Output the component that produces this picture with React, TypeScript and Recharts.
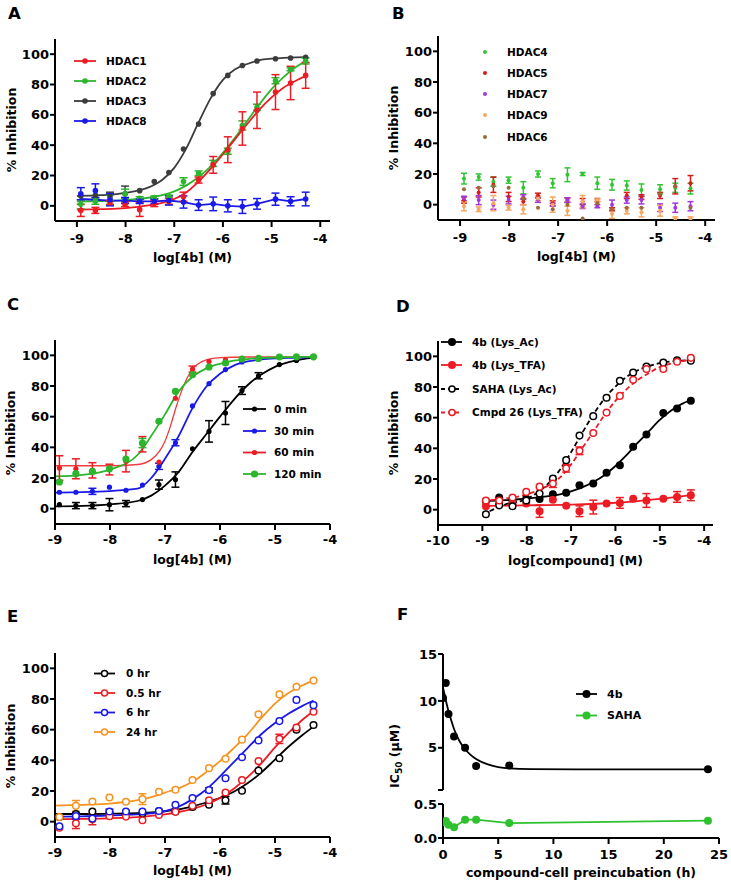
import React from 'react';
import { ComposedChart, Line, Scatter, XAxis, YAxis, ErrorBar, Legend } from 'recharts';

const FONT = '"DejaVu Sans", Verdana, sans-serif';
const W = 731;
const H = 886;

// ---------- shared x values (log concentration) ----------
const concLog = [-8.92, -8.62, -8.32, -8.01, -7.71, -7.41, -7.11, -6.81, -6.5, -6.2, -5.9, -5.6, -5.3, -4.92, -4.61, -4.3];
const fitGrid = [-9, -8.5, -8, -7.5, -7.25, -7, -6.75, -6.5, -6.25, -6, -5.75, -5.5, -5.25, -5, -4.75, -4.5, -4.3];
const logTicks9 = [-9, -8, -7, -6, -5, -4];
const logTicks10 = [-10, -9, -8, -7, -6, -5, -4];
const pctTicks = [0, 20, 40, 60, 80, 100];

// ---------- Panel A ----------
const aH1 = [-3, -3, 2, 1, -2.5, 1.5, 3, 6, 17, 27, 37, 51, 63, 75, 81, 86];
const aH1Err = [4, 2, 1.5, 1.5, 4.5, 2, 2, 3, 2, 5.5, 8.5, 11, 12, 11.5, 11, 8.5];
const aH2 = [1, 3, 4, 8, 5, 5.5, 6, 16, 21.5, 28, 36, 53, 65, 82.5, 90, 95.5];
const aH2Err = [3, 2, 3, 3, 1, 1, 1, 2.5, 1.5, 2, 2, 3, 2, 2, 1, 2];
const aH3 = [6.5, 7, 6, 8, 10, 16, 22, 37.5, 54, 74, 86, 92.5, 95.5, 97, 97.5, 98];
const aH3Err = [0, 0, 3, 5, 0, 0, 0, 0, 0, 0, 0, 0, 0, 0, 0, 0];
const aH8 = [8, 10, 4, 3.5, 3, 3, 3.5, 2.5, 0.5, 1.3, 0, -0.5, 1.3, 4.4, 3, 4.5];
const aH8Err = [4, 4.5, 4, 2, 1.5, 1.5, 3, 4, 3.5, 4.5, 4, 4.5, 3.5, 4, 3, 4.5];
const aH8Trace = [4.5, 4, 3.5, 3.5, 3, 3, 3.5, 2.5, 0.5, 1.3, 0, -0.5, 1.3, 4.4, 3, 4.5];
const aFitH1 = [-2.5, -2.2, -1.5, 0.5, 2, 4.5, 9, 16, 24.5, 34, 44, 54, 63.5, 71.5, 78, 82.5, 85.5];
const aFitH2 = [3, 3.2, 3.8, 5.5, 7, 9.5, 13.5, 19, 26, 35, 45, 56, 67, 77, 85, 91.5, 95.5];
const aFitH3 = [6.5, 7, 8.5, 12.5, 17, 25, 38, 55, 71, 83, 90, 93.5, 96, 97, 97.6, 97.9, 98];

// ---------- Panel B ----------
const bH4 = [17, 18, 15, 16, 11, 20, 14, 19.5, 20, 14, 13, 12.5, 9.5, 10, 11, 10.5];
const bH4Err = [3.5, 2, 3, 2, 4, 2, 3, 4.5, 1, 4, 3.5, 3, 4, 3, 3, 3.5];
const bH5 = [3, 8, 13, 5, 2, 6, 1, 3, 2, 3, -3, 6, 5, 6, 12, 14];
const bH5Err = [2, 3, 5, 3, 2, 1.5, 1.5, 1.5, 2, 1, 1, 2, 1.5, 2, 5, 5];
const bH7 = [4, 3, 0, 3, 5, 3, 0, 3, -1, -1, 0, 3, 3, -2, -2, -1];
const bH7Err = [1.5, 3, 3, 2.5, 1.5, 1.5, 1, 1.5, 1.5, 1, 3, 2, 2.5, 2.5, 3, 3];
const bH9 = [-1, -3, 1, -2, -3, 4, 0, -4, 2, 3, -6, -4, -5, -4, -9, -9];
const bH9Err = [3, 1.5, 5, 1.5, 3, 1.5, 5, 3, 4, 1, 3, 2, 3, 3.5, 1, 1];
const bH6 = [10, 11, 12, 11, 4, -2, -3, 0, -9, 1, -3, -2, -2, 7, 12, -2];

// ---------- Panel C ----------
const c0 = [2.6, 2, 2, 2.6, 3.3, 5.9, 15.7, 19, 39, 50.4, 62.4, 77, 86.7, 94, 96.7, 99];
const c0Err = [0, 2, 2, 4, 2, 0, 3, 5, 0, 7, 7.5, 2.5, 2, 0, 0, 0];
const c30 = [10.7, 10.7, 11.3, 14, 12, 15.4, 27.6, 43, 67, 81.5, 90.7, 95.7, 98, 98.7, 99, 99];
const c30Err = [0, 0, 2, 0, 0, 0, 2, 2, 0, 0, 0, 0, 0, 0, 0, 0];
const c60 = [26.5, 26, 25, 25.5, 31, 42, 30.4, 72, 91, 96, 97, 98, 98, 99, 99, 99];
const c60Err = [8, 6.5, 5, 3.5, 7, 5, 0, 0, 2, 0, 0, 0, 0, 0, 0, 0];
const c120 = [17.4, 22.8, 24.3, 26, 32.4, 42.8, 57, 76.5, 87.4, 92.4, 95, 97.6, 98, 98.9, 99, 99];
const c120Err = [0, 0, 0, 0, 0, 3, 0, 0, 0, 0, 0, 0, 0, 0, 0, 0];
const cFit0 = [1.5, 1.8, 2.8, 5, 8.5, 15, 24, 37, 48.5, 60, 71, 80.5, 87.5, 92.5, 95.5, 97.5, 98.5];
const cFit30 = [10.5, 10.8, 11.5, 13, 20, 32.5, 47.5, 65.6, 79.5, 88, 93.3, 96, 97.3, 98, 98.4, 98.6, 98.7];
const cFit120 = [21, 22, 25.5, 35, 47.5, 61.5, 76.5, 86, 91.5, 94.5, 96.5, 97.5, 98.2, 98.6, 98.8, 99, 99];
const cFit60X = [-9, -8, -7.5, -7.25, -7.1, -7, -6.9, -6.8, -6.7, -6.6, -6.5, -6.25, -6, -5.5, -4.3];
const cFit60 = [28, 28, 28.8, 32, 37.5, 44, 54, 66, 76.5, 85, 91, 97, 98.5, 98.9, 99];

// ---------- Panel D ----------
const d4bAc = [5.5, 7.9, 6, 7.2, 7, 10, 11, 16, 17, 24, 29, 41, 49, 63, 66, 71];
const d4bTfa = [2.2, 4, 4, 4, -1, 6.5, 2.6, -1, 1.7, 4, 4.4, 7.2, 6, 7.2, 8.3, 9.4];
const d4bTfaErr = [0, 0, 0, 0, 4, 0, 0, 3.5, 4.5, 0, 3.5, 0, 4.5, 0, 3.5, 3.5];
const dSaha = [-3, 2.8, 2.2, 6, 10.5, 20.3, 32.3, 48.3, 61, 73, 84, 89.5, 93.4, 96, 97.4, 97.2];
const dCmpd26 = [6, 6, 7.9, 11.6, 15, 17, 27, 38.4, 50, 63.3, 74.2, 84.7, 91.7, 91.7, 96.5, 99];
const dCmpd26Err = [0, 0, 0, 0, 0, 2.5, 2.5, 2.5, 0, 0, 0, 0, 0, 0, 0, 0];
const dFit4bAc = [5.5, 6.2, 7.2, 8.8, 10, 12, 14.5, 18, 22.5, 28.5, 35.5, 43.5, 51, 58.5, 64.5, 69, 71.5];
const dFit4bTfaX = [-9, -8, -7, -6, -5.5, -5, -4.3];
const dFit4bTfa = [2.5, 2.8, 3.3, 4.5, 5.6, 7, 9.5];
const dFitSaha = [-3.3, 3.2, 7, 17.5, 26, 37.5, 50, 62, 72.3, 80.3, 86.5, 90.8, 93.7, 95.5, 96.6, 97.2, 97.4];
const dFitCmpd26 = [5.8, 7.2, 10, 16, 21, 29.5, 40, 50.7, 61.6, 71, 78.5, 84.5, 89, 93, 95.2, 96.8, 97.8];

// ---------- Panel E ----------
const e0 = [3, 5, 6.6, 6, 6, 5.5, 7, 6.6, 9.6, 11, 14, 20.2, 33.3, 41.4, 60, 63];
const e0Err = [0, 0, 0, 0, 0, 0, 0, 0, 0, 0, 2.5, 0, 0, 0, 0, 0];
const e05 = [-4, -1, 1.5, 3.5, 3.3, 0.9, 4.4, 6.4, 10.3, 14, 19, 27.2, 39.5, 54, 61.4, 71.7];
const e05Err = [0, 3.5, 3.5, 0, 0, 0, 0, 0, 0, 0, 0, 0, 0, 3, 0, 0];
const e6 = [-3, 3.7, 2, 6.6, 6.6, 6.6, 7, 11, 15.4, 20.6, 28.3, 42, 53, 65.6, 79.4, 76];
const e6Err = [0, 2, 0, 1.5, 0, 0, 0, 0, 0, 1.5, 0, 0, 0, 0, 0, 0];
const e24 = [3, 10.3, 13.2, 15.8, 13, 14.7, 19.5, 20.8, 27.2, 34.9, 41, 53.5, 70, 83, 88, 92];
const e24Err = [0, 3.5, 0, 0, 0, 3.5, 0, 0, 0, 0, 0, 0, 0, 0, 0, 0];
const eFit0 = [5, 5, 5.2, 5.5, 6, 6.8, 8, 10, 12.5, 15.5, 19.5, 25, 32, 40.5, 49, 56.5, 62];
const eFit05 = [1.5, 1.8, 2.2, 3, 3.8, 4.8, 6.3, 8.3, 11.2, 15.5, 21.5, 29, 38, 48.5, 58, 66.5, 72];
const eFit6 = [3.2, 3.5, 4, 4.8, 5.5, 6.8, 9.8, 14.7, 21, 29.5, 38.8, 48, 57, 64.3, 70.5, 75.5, 79];
const eFit24 = [10.5, 11, 11.8, 14, 16, 19, 21.8, 26, 32.3, 39.5, 48, 57, 67.5, 77, 84, 89, 92];

// ---------- Panel F ----------
const fHours = [0, 0.25, 0.5, 1, 2, 3, 6, 24];
const f4b = [10.3, 11.9, 8.6, 6.2, 5, 3.05, 3.1, 2.7];
const fSaha = [0.235, 0.25, 0.196, 0.157, 0.27, 0.27, 0.22, 0.255];
const fFitX = [0, 0.25, 0.5, 0.75, 1, 1.5, 2, 2.5, 3, 4, 5, 6, 8, 12, 24];
const fFit4b = [11.4, 10.1, 8.9, 7.9, 7.0, 5.7, 4.85, 4.25, 3.8, 3.25, 2.95, 2.8, 2.72, 2.7, 2.7];
const fTicksX = [0, 5, 10, 15, 20, 25];

// ---------- helpers ----------
type Pt = { x: number; y: number; e?: number };
const zip = (xs: number[], ys: number[], es?: number[]): Pt[] =>
  xs.map((x, i) => ({ x, y: ys[i], e: es ? es[i] : 0 }));

type Box = { l: number; t: number; r: number; b: number };
const YW = 50;
const XH = 45;
const marginOf = (bx: Box, showX = true) => ({
  left: bx.l - YW,
  top: bx.t,
  right: W - bx.r,
  bottom: H - bx.b - (showX ? XH : 0),
});

const tickStyle = { fontSize: 13, fontWeight: 700, fill: '#000', fontFamily: FONT };
const axisStroke = { stroke: '#000', strokeWidth: 2 };
const txt = { fontFamily: FONT, fontWeight: 700, fill: '#000' } as const;

const xTitle = (text: string, cx: number, by: number) => ({
  content: () => (
    <text x={cx} y={by} textAnchor="middle" fontSize={12.5} {...txt}>
      {text}
    </text>
  ),
});
const yTitle = (text: string, cx: number, cy: number) => ({
  content: () => (
    <text x={cx} y={cy} dy="0.36em" textAnchor="middle" fontSize={12.5} transform={`rotate(-90 ${cx} ${cy})`} {...txt}>
      {text}
    </text>
  ),
});

const fitLine = (key: string, xs: number[], ys: number[], color: string, sw = 1.8, dash?: string) => (
  <Line
    key={key}
    data={zip(xs, ys)}
    dataKey="y"
    type="monotone"
    stroke={color}
    strokeWidth={sw}
    strokeDasharray={dash}
    dot={false}
    activeDot={false}
    isAnimationActive={false}
  />
);
const trace = (key: string, xs: number[], ys: number[], color: string, sw = 1.8) => (
  <Line key={key} data={zip(xs, ys)} dataKey="y" type="linear" stroke={color} strokeWidth={sw}
    dot={false} activeDot={false} isAnimationActive={false} />
);

const points = (
  key: string,
  data: Pt[],
  color: string,
  r: number,
  opts: { hollow?: boolean; err?: boolean; cap?: number } = {}
) => (
  <Scatter
    key={key}
    data={data}
    dataKey="y"
    isAnimationActive={false}
    shape={(p: any) => (
      <circle cx={p.cx} cy={p.cy} r={r} fill={opts.hollow ? '#fff' : color} stroke={color} strokeWidth={opts.hollow ? 1.5 : 0} />
    )}
  >
    {opts.err === false ? null : (
      <ErrorBar dataKey="e" direction="y" width={opts.cap ?? 4} stroke={color} strokeWidth={1.5} />
    )}
  </Scatter>
);

type LegItem = { label: string; color: string; r: number; hollow?: boolean; line?: boolean; dash?: string };
type LegGeom = { x1: number; x2: number; mx: number; tx: number; ys: number[]; fs: number };
const legendSvg = (items: LegItem[], g: LegGeom, letter: { t: string; x: number; y: number }) => (
  <svg width={W} height={H} style={{ position: 'absolute', left: 0, top: 0, overflow: 'visible' }}>
    <text x={letter.x} y={letter.y} fontSize={16.5} {...txt}>
      {letter.t}
    </text>
    {items.map((it, i) => (
      <g key={it.label}>
        {it.line === false ? null : (
          <line x1={g.x1} x2={g.x2} y1={g.ys[i]} y2={g.ys[i]} stroke={it.color} strokeWidth={1.8} strokeDasharray={it.dash} />
        )}
        <circle cx={g.mx} cy={g.ys[i]} r={it.r} fill={it.hollow ? '#fff' : it.color} stroke={it.color} strokeWidth={it.hollow ? 1.5 : 0} />
        <text x={g.tx} y={g.ys[i]} dy="0.36em" fontSize={g.fs} {...txt}>
          {it.label}
        </text>
      </g>
    ))}
  </svg>
);
const legendEl = (items: LegItem[], g: LegGeom, letter: { t: string; x: number; y: number }) => (
  <Legend
    layout="horizontal"
    verticalAlign="middle"
    align="center"
    wrapperStyle={{ left: 0, top: 0, width: W, height: H, margin: 0, pointerEvents: 'none' }}
    content={() => legendSvg(items, g, letter)}
  />
);

const layer: React.CSSProperties = { position: 'absolute', left: 0, top: 0, width: W, height: H };

// ---------- colours ----------
const RED = '#ec1c24';
const GREEN = '#2db52d';
const BLUE = '#1a1ae8';
const GRAY = '#3c3c3c';
const BLACK = '#000000';
const ORANGE = '#f7931e';

// ---------- boxes ----------
const boxA: Box = { l: 55, t: 39, r: 330, b: 221 };
const boxB: Box = { l: 438, t: 36, r: 715, b: 220 };
const boxC: Box = { l: 55, t: 340, r: 330, b: 524 };
const boxD: Box = { l: 438, t: 341, r: 713, b: 525 };
const boxE: Box = { l: 55, t: 653, r: 330, b: 837 };
const boxFU: Box = { l: 443, t: 654, r: 719, b: 790 };
const boxFL: Box = { l: 443, t: 804, r: 719, b: 838 };

const xAxisLog = (domain: [number, number], ticks: number[], title: any, tickMargin = 5) => (
  <XAxis
    type="number"
    dataKey="x"
    domain={domain}
    ticks={ticks}
    interval={0}
    allowDataOverflow
    height={XH}
    tick={tickStyle}
    tickLine={axisStroke}
    axisLine={axisStroke}
    tickSize={6}
    tickMargin={tickMargin}
    label={title}
  />
);
const yAxisPct = (title: any) => (
  <YAxis
    type="number"
    dataKey="y"
    domain={[-10, 110]}
    ticks={pctTicks}
    interval={0}
    allowDataOverflow
    width={YW}
    tick={tickStyle}
    tickLine={axisStroke}
    axisLine={axisStroke}
    tickSize={5}
    tickMargin={1}
    label={title}
  />
);

export default function App() {
  return (
    <div style={{ position: 'absolute', left: 0, top: 0, width: W, height: H, background: '#fff', overflow: 'hidden' }}>
      {/* Panel A */}
      <div style={layer}>
        <ComposedChart width={W} height={H} margin={marginOf(boxA)}>
          {xAxisLog([-9.45, -3.8], logTicks9, xTitle('log[4b] (M)', 192.5, 262), 7)}
          {yAxisPct(yTitle('% Inhibition', 11, 130))}
          {fitLine('a3', fitGrid, aFitH3, GRAY)}
          {fitLine('a2', fitGrid, aFitH2, GREEN)}
          {fitLine('a1', fitGrid, aFitH1, RED)}
          {trace('a8', concLog, aH8Trace, BLUE)}
          {points('pa3', zip(concLog, aH3, aH3Err), GRAY, 2.8, { cap: 4 })}
          {points('pa2', zip(concLog, aH2, aH2Err), GREEN, 2.8, { cap: 4 })}
          {points('pa1', zip(concLog, aH1, aH1Err), RED, 2.8, { cap: 4 })}
          {points('pa8', zip(concLog, aH8, aH8Err), BLUE, 2.8, { cap: 4 })}
          {legendEl(
            [
              { label: 'HDAC1', color: RED, r: 2.8 },
              { label: 'HDAC2', color: GREEN, r: 2.8 },
              { label: 'HDAC3', color: GRAY, r: 2.8 },
              { label: 'HDAC8', color: BLUE, r: 2.8 },
            ],
            { x1: 74, x2: 96, mx: 85, tx: 106, ys: [61, 81, 101, 121], fs: 10.5 },
            { t: 'A', x: 8, y: 18.5 }
          )}
        </ComposedChart>
      </div>

      {/* Panel B */}
      <div style={layer}>
        <ComposedChart width={W} height={H} margin={marginOf(boxB)}>
          {xAxisLog([-9.45, -3.8], logTicks9, xTitle('log[4b] (M)', 576.5, 261), 7)}
          {yAxisPct(yTitle('% Inhibition', 393, 128))}
          {points('pb4', zip(concLog, bH4, bH4Err), '#33c433', 2, { cap: 3 })}
          {points('pb5', zip(concLog, bH5, bH5Err), '#d81b1b', 2, { cap: 3 })}
          {points('pb7', zip(concLog, bH7, bH7Err), '#a238d8', 2, { cap: 3 })}
          {points('pb9', zip(concLog, bH9, bH9Err), '#f6a760', 2, { cap: 3 })}
          {points('pb6', zip(concLog, bH6), '#9a6b3a', 2, { err: false })}
          {legendEl(
            [
              { label: 'HDAC4', color: '#33c433', r: 2, line: false },
              { label: 'HDAC5', color: '#d81b1b', r: 2, line: false },
              { label: 'HDAC7', color: '#a238d8', r: 2, line: false },
              { label: 'HDAC9', color: '#f6a760', r: 2, line: false },
              { label: 'HDAC6', color: '#9a6b3a', r: 2, line: false },
            ],
            { x1: 485, x2: 485, mx: 485, tx: 507, ys: [52, 73, 94, 115, 137], fs: 10.5 },
            { t: 'B', x: 392, y: 18.5 }
          )}
        </ComposedChart>
      </div>

      {/* Panel C */}
      <div style={layer}>
        <ComposedChart width={W} height={H} margin={marginOf(boxC)}>
          {xAxisLog([-9, -4], logTicks9, xTitle('log[4b] (M)', 192.5, 564), 5)}
          {yAxisPct(yTitle('% Inhibition', 10, 433))}
          {fitLine('c0', fitGrid, cFit0, BLACK)}
          {fitLine('c30', fitGrid, cFit30, BLUE)}
          {fitLine('c60', cFit60X, cFit60, '#f03c3c', 1.3)}
          {fitLine('c120', fitGrid, cFit120, GREEN)}
          {points('pc0', zip(concLog, c0, c0Err), BLACK, 2.6, { cap: 4 })}
          {points('pc30', zip(concLog, c30, c30Err), BLUE, 2.6, { cap: 4 })}
          {points('pc60', zip(concLog, c60, c60Err), RED, 2.6, { cap: 4 })}
          {points('pc120', zip(concLog, c120, c120Err), GREEN, 3.6, { cap: 4 })}
          {legendEl(
            [
              { label: '0 min', color: BLACK, r: 2.6 },
              { label: '30 min', color: BLUE, r: 2.6 },
              { label: '60 min', color: RED, r: 2.6 },
              { label: '120 min', color: GREEN, r: 3.6 },
            ],
            { x1: 243, x2: 266, mx: 254.5, tx: 274, ys: [409, 431, 452.5, 474], fs: 10.5 },
            { t: 'C', x: 7, y: 310 }
          )}
        </ComposedChart>
      </div>

      {/* Panel D */}
      <div style={layer}>
        <ComposedChart width={W} height={H} margin={marginOf(boxD)}>
          {xAxisLog([-10, -3.8], logTicks10, xTitle('log[compound] (M)', 575.5, 565), 5)}
          {yAxisPct(yTitle('% Inhibition', 393, 433))}
          {fitLine('d1', fitGrid, dFit4bAc, BLACK)}
          {fitLine('d2', dFit4bTfaX, dFit4bTfa, RED)}
          {fitLine('d3', fitGrid, dFitSaha, BLACK, 1.8, '5 3')}
          {fitLine('d4', fitGrid, dFitCmpd26, RED, 1.8, '5 3')}
          {points('pd1', zip(concLog, d4bAc), BLACK, 4, { err: false })}
          {points('pd2', zip(concLog, d4bTfa, d4bTfaErr), RED, 4, { cap: 4 })}
          {points('pd3', zip(concLog, dSaha), BLACK, 3.3, { hollow: true, err: false })}
          {points('pd4', zip(concLog, dCmpd26, dCmpd26Err), RED, 3.3, { hollow: true, cap: 4 })}
          {legendEl(
            [
              { label: '4b (Lys_Ac)', color: BLACK, r: 4 },
              { label: '4b (Lys_TFA)', color: RED, r: 4 },
              { label: 'SAHA (Lys_Ac)', color: BLACK, r: 3, hollow: true, dash: '4 3' },
              { label: 'Cmpd 26 (Lys_TFA)', color: RED, r: 3, hollow: true, dash: '4 3' },
            ],
            { x1: 441, x2: 462, mx: 452, tx: 472, ys: [342, 365, 389, 412.5], fs: 10.5 },
            { t: 'D', x: 396, y: 312 }
          )}
        </ComposedChart>
      </div>

      {/* Panel E */}
      <div style={layer}>
        <ComposedChart width={W} height={H} margin={marginOf(boxE)}>
          {xAxisLog([-9, -4], logTicks9, xTitle('log[4b] (M)', 192.5, 875), 5)}
          {yAxisPct(yTitle('% Inhibition', 10, 746))}
          {fitLine('e0', fitGrid, eFit0, BLACK)}
          {fitLine('e05', fitGrid, eFit05, RED)}
          {fitLine('e6', fitGrid, eFit6, BLUE)}
          {fitLine('e24', fitGrid, eFit24, ORANGE)}
          {points('pe0', zip(concLog, e0, e0Err), BLACK, 3.3, { hollow: true, cap: 4 })}
          {points('pe05', zip(concLog, e05, e05Err), RED, 3.3, { hollow: true, cap: 4 })}
          {points('pe6', zip(concLog, e6, e6Err), BLUE, 3.3, { hollow: true, cap: 4 })}
          {points('pe24', zip(concLog, e24, e24Err), ORANGE, 3.3, { hollow: true, cap: 4 })}
          {legendEl(
            [
              { label: '0 hr', color: BLACK, r: 3, hollow: true },
              { label: '0.5 hr', color: RED, r: 3, hollow: true },
              { label: '6 hr', color: BLUE, r: 3, hollow: true },
              { label: '24 hr', color: ORANGE, r: 3, hollow: true },
            ],
            { x1: 94, x2: 115, mx: 104.5, tx: 126, ys: [673.5, 693, 712.5, 732], fs: 10.5 },
            { t: 'E', x: 7, y: 622 }
          )}
        </ComposedChart>
      </div>

      {/* Panel F - upper (4b) */}
      <div style={layer}>
        <ComposedChart width={W} height={H} margin={marginOf(boxFU, false)}>
          <XAxis type="number" dataKey="x" domain={[0, 25]} allowDataOverflow hide />
          <YAxis
            type="number"
            dataKey="y"
            domain={[0.5, 15]}
            ticks={[0.5, 5, 10, 15]}
            interval={0}
            allowDataOverflow
            width={YW}
            tick={tickStyle}
            tickFormatter={(v: number) => (v < 1 ? '' : String(v))}
            tickLine={axisStroke}
            axisLine={axisStroke}
            tickSize={5}
            tickMargin={1}
            label={{
              content: () => (
                <text x={394} y={756} dy="0.36em" textAnchor="middle" fontSize={12.5} transform="rotate(-90 394 756)" {...txt}>
                  IC<tspan dy={3} fontSize={9}>50</tspan>
                  <tspan dy={-3}> (μM)</tspan>
                </text>
              ),
            }}
          />
          {fitLine('f4b', fFitX, fFit4b, BLACK)}
          {points('pf4b', zip(fHours, f4b), BLACK, 4, { err: false })}
          {legendEl(
            [
              { label: '4b', color: BLACK, r: 4 },
              { label: 'SAHA', color: '#2ec22e', r: 4 },
            ],
            { x1: 576, x2: 597, mx: 586.5, tx: 607, ys: [694, 715.5], fs: 11 },
            { t: 'F', x: 397, y: 620 }
          )}
        </ComposedChart>
      </div>

      {/* Panel F - lower (SAHA) */}
      <div style={layer}>
        <ComposedChart width={W} height={H} margin={marginOf(boxFL)}>
          <XAxis
            type="number"
            dataKey="x"
            domain={[0, 25]}
            ticks={fTicksX}
            interval={0}
            allowDataOverflow
            height={XH}
            tick={tickStyle}
            tickLine={axisStroke}
            axisLine={axisStroke}
            tickSize={6}
            tickMargin={6}
            label={xTitle('compound-cell preincubation (h)', 581, 877)}
          />
          <YAxis
            type="number"
            dataKey="y"
            domain={[0, 0.5]}
            ticks={[0, 0.5]}
            interval={0}
            allowDataOverflow
            width={YW}
            tick={tickStyle}
            tickFormatter={(v: number) => v.toFixed(1)}
            tickLine={axisStroke}
            axisLine={axisStroke}
            tickSize={5}
            tickMargin={1}
          />
          {trace('fsaha', fHours, fSaha, '#2ec22e')}
          {points('pfsaha', zip(fHours, fSaha), '#2ec22e', 4, { err: false })}
        </ComposedChart>
      </div>
    </div>
  );
}
